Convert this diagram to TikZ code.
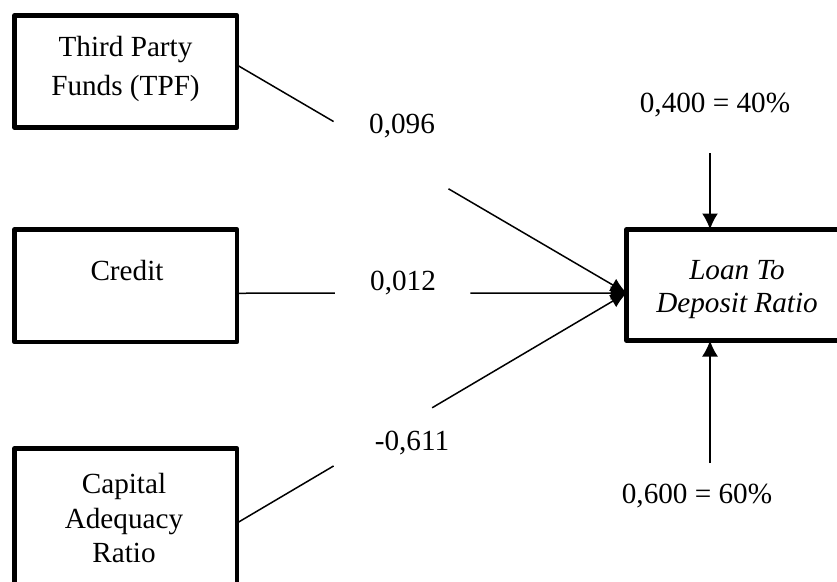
\documentclass[tikz,border=0pt]{standalone}
\usepackage{fontspec}
\setmainfont{Liberation Serif}
\usetikzlibrary{calc,arrows.meta}
\begin{document}
\begin{tikzpicture}[x=1pt,y=-1pt,
  box/.style={draw,line width=4.5pt,line join=round,rectangle,inner sep=0pt,outer sep=0pt},
  txt/.style={font=\fontsize{29.2}{33}\selectfont,align=center,anchor=base,inner sep=0pt},
  link/.style={line width=1.5pt},
  arr/.style={line width=1.5pt,-{Latex[length=16pt,width=14pt]}},
  varr/.style={line width=1.8pt,-{Latex[length=16pt,width=16pt]}}]
\clip (0,0) rectangle (837,581);
\fill[white] (0,0) rectangle (837,581);
% boxes
\node[box,minimum width=222.5pt,minimum height=112pt] (tpf) at (125.75,71.5) {};
\node[box,minimum width=222.5pt,minimum height=112.5pt] (credit) at (125.75,285.75) {};
\node[box,minimum width=222.5pt,minimum height=144pt] (car) at (125.75,520.5) {};
\node[box,minimum width=221pt,minimum height=111pt] (ldr) at (737,285) {};
% box texts
\node[txt] (tpfA) at (125.5,56) {Third Party};
\node[txt] (tpfB) at (125.5,95) {Funds (TPF)};
\node[txt] (creditT) at (127,280) {Credit};
\node[txt] (carA) at (124,493) {Capital};
\node[txt] (carB) at (124,528) {Adequacy};
\node[txt] (carC) at (124,562) {Ratio};
\node[txt] (ldrA) at (737,279) {\itshape Loan To};
\node[txt] (ldrB) at (737,312) {\itshape Deposit Ratio};
% coefficient labels
\node[txt] (l1) at (402,133) {0,096};
\node[txt] (l2) at (403,290) {0,012};
\node[txt] (l3) at (412,450) {-0,611};
\node[txt] (l4) at (715,112) {0,400 = 40\%};
\node[txt] (l5) at (697,503) {0,600 = 60\%};
% anchor points
\coordinate (tip) at ([yshift=-8pt]ldr.west);
\coordinate (s1) at ([yshift=6.5pt]tpf.east);
\coordinate (s2) at ([yshift=-7.5pt]credit.east);
\coordinate (s3) at ([yshift=-2.5pt]car.east);
% connectors with gaps
\draw[link] (s1) -- ($(s1)!0.248!(tip)$);
\draw[arr] ($(s1)!0.543!(tip)$) -- (tip);
\draw[link] (s2) -- ($(s2)!0.251!(tip)$);
\draw[arr] ($(s2)!0.599!(tip)$) -- (tip);
\draw[link] (s3) -- ($(s3)!0.248!(tip)$);
\draw[arr] ($(s3)!0.501!(tip)$) -- (tip);
% error arrows
\coordinate (eTop) at (710,153);
\coordinate (eBot) at (710,463);
\draw[varr] (eTop) -- (eTop |- ldr.north);
\draw[varr] (eBot) -- (eBot |- ldr.south);
\end{tikzpicture}
\end{document}
